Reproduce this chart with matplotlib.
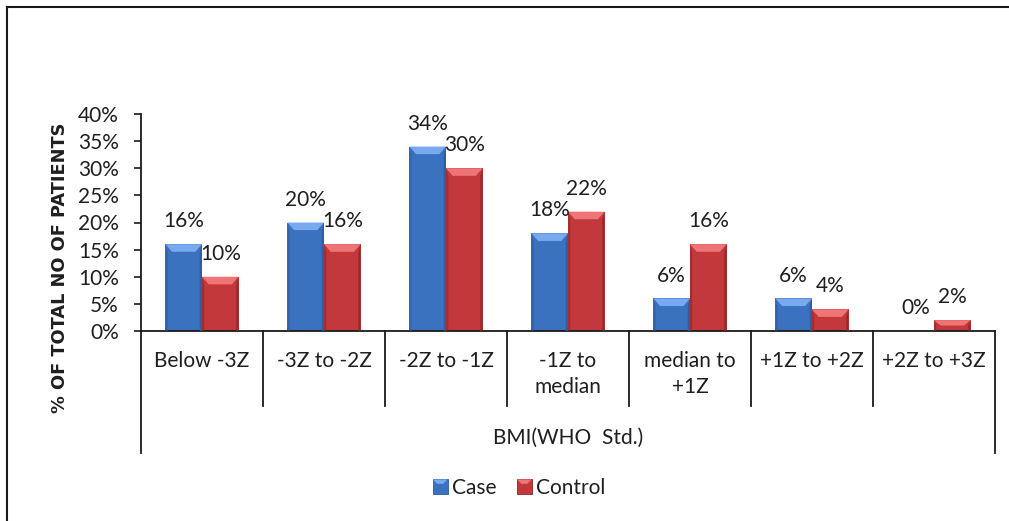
import matplotlib
matplotlib.use("Agg")
import matplotlib.pyplot as plt
from matplotlib.patches import Polygon, Rectangle
from matplotlib.lines import Line2D
from matplotlib.legend_handler import HandlerPatch
import numpy as np

# BMI category data (percent of patients)
categories = ["Below -3Z", "-3Z to -2Z", "-2Z to -1Z", "-1Z to\nmedian",
              "median to\n+1Z", "+1Z to +2Z", "+2Z to +3Z"]
case_pct = [16, 20, 34, 18, 6, 6, 0]
control_pct = [10, 16, 30, 22, 16, 4, 2]
yticks = [0, 5, 10, 15, 20, 25, 30, 35, 40]
group_label = "BMI(WHO  Std.)"
series_names = ["Case", "Control"]

FONT = "Lato"
FS = 15
TXT = "#1f1f1f"

# face, light top, dark side colours for the bevelled bars
BLUE = ("#3b72bf", "#79aaf0", "#2b5a9c")
RED = ("#c3393b", "#ef7476", "#8f2426")

fig = plt.figure(figsize=(10.09, 5.21), dpi=100)
W, H = 1009, 521
ax = fig.add_axes([141 / W, (H - 331) / H, (995 - 141) / W, (331 - 114) / H])

x = np.arange(len(categories))
bw = 0.30
offs = [-0.15, 0.15]


def bevel_bar(ax, xc, h, cols):
    face, light, dark = cols
    bars = ax.bar(xc, h, width=bw, color=face, edgecolor="none", zorder=2)
    if h <= 0:
        return bars
    x0, x1 = xc - bw / 2, xc + bw / 2
    dx = 0.055
    dy = min(1.4, h / 2)  # bevel depth in value units
    # top facet
    ax.add_patch(Polygon([(x0, h), (x1, h), (x1 - dx, h - dy), (x0 + dx, h - dy)],
                         closed=True, color=light, lw=0, zorder=3))
    # side facets
    ax.add_patch(Polygon([(x0, h), (x0 + dx * 0.35, h - dy), (x0 + dx * 0.35, 0), (x0, 0)],
                         closed=True, color=dark, lw=0, alpha=0.55, zorder=3))
    ax.add_patch(Polygon([(x1, h), (x1 - dx * 0.35, h - dy), (x1 - dx * 0.35, 0), (x1, 0)],
                         closed=True, color=dark, lw=0, alpha=0.8, zorder=3))
    return bars


for i in range(len(categories)):
    for vals, off, cols in ((case_pct, offs[0], BLUE), (control_pct, offs[1], RED)):
        bevel_bar(ax, x[i] + off, vals[i], cols)
        ax.annotate(f"{vals[i]}%", (x[i] + off, vals[i]), xytext=(0, 16.5),
                    textcoords="offset points", ha="center", va="center",
                    fontsize=FS, family=FONT, color=TXT, zorder=5)

ax.set_xlim(-0.5, len(categories) - 0.5)
ax.set_ylim(0, 40)
ax.set_yticks(yticks)
ax.set_yticklabels([f"{t}%" for t in yticks], family=FONT, fontsize=FS, color=TXT)
ax.tick_params(axis="y", direction="out", length=5, width=1.2, pad=11, color="#1a1a1a")
ax.set_xticks([])

for s in ("top", "right"):
    ax.spines[s].set_visible(False)
ax.spines["left"].set_linewidth(1.3)
ax.spines["bottom"].set_linewidth(1.3)
ax.spines["left"].set_color("#1a1a1a")
ax.spines["bottom"].set_color("#1a1a1a")

trans = ax.get_xaxis_transform()
ax_h = 331 - 114
inner = -(406 - 331) / ax_h
outer = -(453 - 331) / ax_h

# category separators and outer group lines
for b in np.arange(0.5, len(categories) - 0.5, 1.0):
    ax.add_line(Line2D([b, b], [0, inner], transform=trans, color="#1a1a1a",
                       lw=1.3, clip_on=False))
for b in (-0.5, len(categories) - 0.5):
    ax.add_line(Line2D([b, b], [0, outer], transform=trans, color="#1a1a1a",
                       lw=1.3, clip_on=False))

for i, lab in enumerate(categories):
    ax.text(x[i], -(351 - 331) / ax_h, lab, transform=trans, ha="center", va="top",
            fontsize=FS, family=FONT, color=TXT, linespacing=1.4)

ax.text((len(categories) - 1) / 2, -(438 - 331) / ax_h, group_label, transform=trans,
        ha="center", va="center", fontsize=FS, family=FONT, color=TXT)

fig.text(60 / W, 1 - 268 / H, "% OF TOTAL NO OF PATIENTS", rotation=90,
         ha="center", va="center", fontsize=12.8, fontweight="bold",
         family="DejaVu Sans", color=TXT)


# legend with bevelled square keys
class BevelHandler(HandlerPatch):
    def __init__(self, cols):
        super().__init__()
        self.cols = cols

    def create_artists(self, legend, orig_handle, xd, yd, width, height, fontsize, trans):
        face, light, dark = self.cols
        s = height * 1.0
        x0, y0 = xd + width - s, yd - (s - height) / 2
        base = Rectangle((x0, y0), s, s, facecolor=face, edgecolor=dark, lw=0.6,
                         transform=trans)
        e = s * 0.3
        top = Polygon([(x0, y0 + s), (x0 + s, y0 + s), (x0 + s - e, y0 + s - e),
                       (x0 + e, y0 + s - e)], closed=True, color=light, lw=0,
                      transform=trans)
        return [base, top]


h_case = Rectangle((0, 0), 1, 1)
h_ctrl = Rectangle((0, 0), 1, 1)
leg = fig.legend([h_case, h_ctrl], series_names, loc="center",
                 bbox_to_anchor=(518 / W, 1 - 488 / H), ncol=2, frameon=False,
                 prop={"family": FONT, "size": FS}, handlelength=0.8,
                 handletextpad=0.2, columnspacing=0.9,
                 handler_map={h_case: BevelHandler(BLUE), h_ctrl: BevelHandler(RED)})
for t in leg.get_texts():
    t.set_color(TXT)

# outer chart border (left and top edges)
fig.add_artist(Line2D([7 / W, 7 / W], [0, 1 - 7 / H], transform=fig.transFigure,
                      color="#1a1a1a", lw=1.5))
fig.add_artist(Line2D([7 / W, 1], [1 - 7 / H, 1 - 7 / H], transform=fig.transFigure,
                      color="#1a1a1a", lw=1.5))

fig.savefig("out.png", dpi=100)
